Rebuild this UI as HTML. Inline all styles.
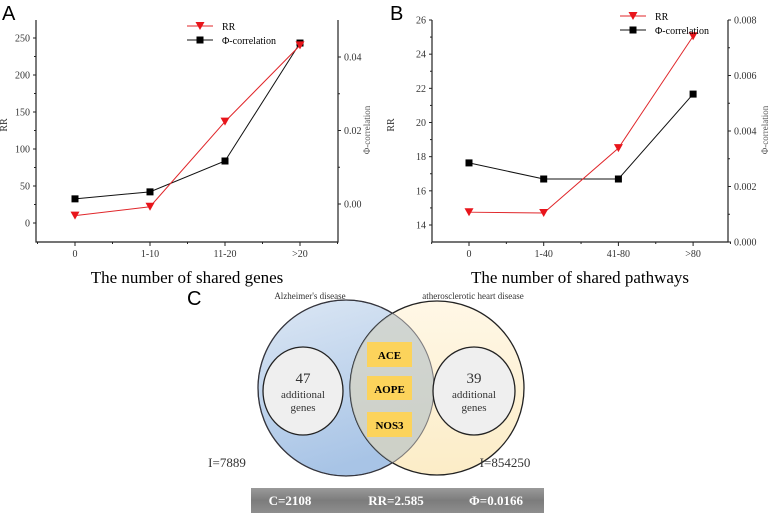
<!DOCTYPE html>
<html><head><meta charset="utf-8"><style>
body{margin:0;background:#fff;width:778px;height:525px;overflow:hidden}
svg{display:block}
text{font-family:"Liberation Serif",serif}
</style></head><body>
<svg id="s" width="778" height="525" viewBox="0 0 778 525">
<defs>
<linearGradient id="gb" x1="0" y1="0" x2="0.3" y2="1"><stop offset="0" stop-color="#dce7f4"/><stop offset="1" stop-color="#a8c4e6"/></linearGradient>
<linearGradient id="gy" x1="0" y1="0" x2="0" y2="1"><stop offset="0" stop-color="#fff6e2"/><stop offset="1" stop-color="#fbe9bd"/></linearGradient>
<linearGradient id="gg" x1="0" y1="0" x2="0" y2="1"><stop offset="0" stop-color="#9a9a9a"/><stop offset="0.5" stop-color="#7c7c7c"/><stop offset="1" stop-color="#8e8e8e"/></linearGradient>
</defs>
<text x="2" y="20" font-size="20" style="font-family:'Liberation Sans',sans-serif">A</text>
<text x="390" y="20" font-size="20" style="font-family:'Liberation Sans',sans-serif">B</text>
<g id="chartA"></g>
<g id="chartB"></g>

<g>
<text x="187" y="305" font-size="20" style="font-family:'Liberation Sans',sans-serif">C</text>
<circle cx="346" cy="388" r="88" fill="url(#gb)" stroke="#222" stroke-width="1.3"/>
<circle cx="437" cy="388" r="87" fill="url(#gy)" fill-opacity="0.85" stroke="#222" stroke-width="1.3"/>
<path d="M346,300 A88,88 0 0 1 346,476" fill="none"/>
<clipPath id="cb"><circle cx="346" cy="388" r="88"/></clipPath>
<circle cx="437" cy="388" r="87" fill="#b7c3c8" fill-opacity="0.6" clip-path="url(#cb)"/>
<circle cx="346" cy="388" r="88" fill="none" stroke="#445" stroke-width="1" stroke-opacity="0.6"/>
<ellipse cx="303" cy="391" rx="40" ry="44" fill="#efefef" stroke="#222" stroke-width="1.3"/>
<ellipse cx="474" cy="391" rx="41" ry="44" fill="#efefef" stroke="#222" stroke-width="1.3"/>
<text x="303" y="383" font-size="15" text-anchor="middle" fill="#333">47</text>
<text x="303" y="398" font-size="11" text-anchor="middle" fill="#333">additional</text>
<text x="303" y="411" font-size="11" text-anchor="middle" fill="#333">genes</text>
<text x="474" y="383" font-size="15" text-anchor="middle" fill="#333">39</text>
<text x="474" y="398" font-size="11" text-anchor="middle" fill="#333">additional</text>
<text x="474" y="411" font-size="11" text-anchor="middle" fill="#333">genes</text>
<rect x="367" y="342" width="45" height="25" fill="#fcd35b"/>
<rect x="367" y="376" width="45" height="24" fill="#fcd35b"/>
<rect x="367" y="412" width="45" height="25" fill="#fcd35b"/>
<text x="389.5" y="359" font-size="11" font-weight="bold" text-anchor="middle">ACE</text>
<text x="389.5" y="393" font-size="11" font-weight="bold" text-anchor="middle">AOPE</text>
<text x="389.5" y="429" font-size="11" font-weight="bold" text-anchor="middle">NOS3</text>
<text x="310" y="299" font-size="9" text-anchor="middle" fill="#333">Alzheimer's disease</text>
<text x="473" y="299" font-size="9" text-anchor="middle" fill="#333">atherosclerotic heart disease</text>
<text x="227" y="467" font-size="13" text-anchor="middle" fill="#333">I=7889</text>
<text x="505" y="467" font-size="13" text-anchor="middle" fill="#333">I=854250</text>
<rect x="251" y="488" width="293" height="25" fill="url(#gg)"/>
<text x="290" y="505" font-size="13" font-weight="bold" fill="#fff" text-anchor="middle">C=2108</text>
<text x="396" y="505" font-size="13" font-weight="bold" fill="#fff" text-anchor="middle">RR=2.585</text>
<text x="496" y="505" font-size="13" font-weight="bold" fill="#fff" text-anchor="middle">Φ=0.0166</text>
</g>
</svg>
<script>
const catsA=["0","1-10","11-20",">20"];
const rrA=[10,22,137,240];
const phiA=[0.0014,0.0033,0.0117,0.0438];
const leftTicksA=[0,50,100,150,200,250];
const rightTicksA=[0.00,0.02,0.04];
const catsB=["0","1-40","41-80",">80"];
const rrB=[14.75,14.7,18.5,25.05];
const phiB=[0.00285,0.00227,0.00227,0.00533];
const leftTicksB=[14,16,18,20,22,24,26];
const rightTicksB=[0,0.002,0.004,0.006,0.008];
const NS="http://www.w3.org/2000/svg";
function mk(p,t,a,txt){const e=document.createElementNS(NS,t);for(const k in a)e.setAttribute(k,a[k]);if(txt!==undefined)e.textContent=txt;p.appendChild(e);return e;}
function chart(g,o){
 const L=o.L,R=o.R,T=20,B=242;
 const x=i=>o.x0+i*o.step;
 const yl=v=>o.yl0+(v-o.lmin)*(o.yl1-o.yl0)/(o.lmax-o.lmin);
 const yr=v=>o.yr0+(v-o.rmin)*(o.yr1-o.yr0)/(o.rmax-o.rmin);
 const ax=mk(g,"path",{d:`M${L},${T}V${B}H${R}V${T}`,fill:"none",stroke:"#222","stroke-width":1.2});
 
 
 o.lt.forEach((v,i)=>{const y=yl(v);mk(g,"line",{x1:L-3,x2:L,y1:y,y2:y,stroke:"#222"});
  const t=mk(g,"text",{x:L-6,y:y+3.5,"font-size":10,"text-anchor":"end",fill:"#333"},o.ltf(v));
  
  
  if(i<o.lt.length-1){const ym=yl((v+o.lt[i+1])/2);mk(g,"line",{x1:L-2,x2:L,y1:ym,y2:ym,stroke:"#222"});}});
 o.rt.forEach((v,i)=>{const y=yr(v);mk(g,"line",{x1:R,x2:R+3,y1:y,y2:y,stroke:"#222"});
  const t=mk(g,"text",{x:R+6,y:y+3.5,"font-size":10,fill:"#333"},o.rtf(v));
  
  
  if(i<o.rt.length-1){const ym=yr((v+o.rt[i+1])/2);mk(g,"line",{x1:R,x2:R+2,y1:ym,y2:ym,stroke:"#222"});}});
 o.cats.forEach((c,i)=>{mk(g,"line",{x1:x(i),x2:x(i),y1:B,y2:B+4,stroke:"#222"});
  mk(g,"line",{x1:x(i)+o.step/2,x2:x(i)+o.step/2,y1:B,y2:B+2,stroke:"#222"});
  const t=mk(g,"text",{x:x(i),y:B+15,"font-size":10,"text-anchor":"middle",fill:"#333"},c);
  
  });
 mk(g,"line",{x1:x(0)-o.step/2,x2:x(0)-o.step/2,y1:B,y2:B+2,stroke:"#222"});
 const xt=mk(g,"text",{x:(L+R)/2,y:283,"font-size":17,"text-anchor":"middle"},o.xtitle);
 
 
 const lt=mk(g,"text",{x:0,y:0,"font-size":10,"text-anchor":"middle",fill:"#333",transform:`translate(${o.lx},125) rotate(-90)`},"RR");
 
 
 const rt=mk(g,"text",{x:0,y:0,"font-size":9,"text-anchor":"middle",fill:"#555",transform:`translate(${o.rx},130) rotate(-90)`},"Φ-correlation");
 
 
 const pl=mk(g,"polyline",{points:o.phi.map((v,i)=>x(i)+","+yr(v)).join(" "),fill:"none",stroke:"#111","stroke-width":1});
 
 
 const rl=mk(g,"polyline",{points:o.rr.map((v,i)=>x(i)+","+yl(v)).join(" "),fill:"none",stroke:"#e0262a","stroke-width":1});
 
 
 o.phi.forEach((v,i)=>{const r=mk(g,"rect",{x:x(i)-3.5,y:yr(v)-3.5,width:7,height:7,fill:"#000"});
  
  });
 o.rr.forEach((v,i)=>{const y=yl(v),X=x(i);const p=mk(g,"polygon",{points:`${X-4.5},${y-4} ${X+4.5},${y-4} ${X},${y+4}`,fill:"#e8151b"});
  
  });
 const lg=mk(g,"g",{});
 
 
 const a=o.lgx,b=o.lgy;
 mk(lg,"line",{x1:a,x2:a+26,y1:b,y2:b,stroke:"#e0262a"});
 mk(lg,"polygon",{points:`${a+8.5},${b-4} ${a+17.5},${b-4} ${a+13},${b+4}`,fill:"#e8151b"});
 mk(lg,"text",{x:a+35,y:b+4,"font-size":10},"RR");
 mk(lg,"line",{x1:a,x2:a+26,y1:b+14,y2:b+14,stroke:"#111"});
 mk(lg,"rect",{x:a+9.5,y:b+10.5,width:7,height:7,fill:"#000"});
 mk(lg,"text",{x:a+35,y:b+18,"font-size":10},"Φ-correlation");
}
chart(document.getElementById("chartA"),{L:36,R:338,x0:75,step:75,cats:catsA,rr:rrA,phi:phiA,lt:leftTicksA,rt:rightTicksA,
 lmin:0,lmax:250,yl0:223,yl1:38,rmin:0,rmax:0.04,yr0:204,yr1:57,ltf:v=>String(v),rtf:v=>v.toFixed(2),
 xtitle:"The number of shared genes",lx:7,rx:370,lgx:187,lgy:26});
chart(document.getElementById("chartB"),{L:432,R:728,x0:469,step:74.7,cats:catsB,rr:rrB,phi:phiB,lt:leftTicksB,rt:rightTicksB,
 lmin:14,lmax:26,yl0:225,yl1:20,rmin:0,rmax:0.008,yr0:242,yr1:20,ltf:v=>String(v),rtf:v=>v.toFixed(3),
 xtitle:"The number of shared pathways",lx:394,rx:768,lgx:620,lgy:16});
</script>
</body></html>
